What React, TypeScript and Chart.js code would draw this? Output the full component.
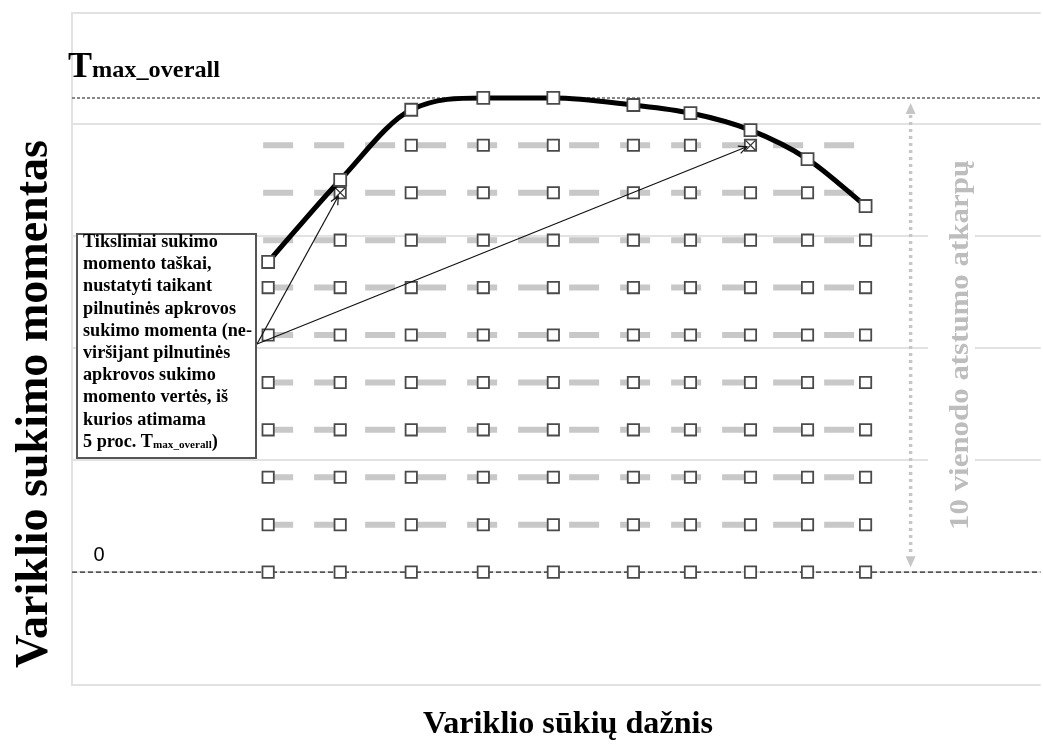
import React, { useEffect, useRef } from "react";
import { Chart, registerables } from "chart.js";

Chart.register(...registerables);

// ---- data ----
const engineSpeeds = [980, 1340, 1695, 2055, 2405, 2805, 3090, 3390, 3675, 3965];
const fullLoadTorque = [65.4, 82.7, 97.5, 100, 100, 98.5, 96.8, 93.2, 87.1, 77.2];
const torqueLevels = [0, 10, 20, 30, 40, 50, 60, 70, 80, 90];
const highestLevelIndex = [6, 7, 9, 9, 9, 9, 9, 8, 8, 7];
const targetSpeeds = [1340, 3390];
const targetTorques = [80, 90];
const gridLevels = [-23.8, 0, 23.6, 47.2, 70.8, 94.4, 117.9];
const levelLineSpeeds = [955, 3915];
const speedRange = [0, 4840];
const tmaxOverall = 100;
const spanArrowSpeed = 4190;

const boxLines = [
  "Tiksliniai sukimo",
  "momento taškai,",
  "nustatyti taikant",
  "pilnutinės apkrovos",
  "sukimo momenta (ne-",
  "viršijant pilnutinės",
  "apkrovos sukimo",
  "momento vertės, iš",
  "kurios atimama",
];
const boxLastLine = ["5 proc. T", "max_overall", ")"];
const yTitle = "Variklio sukimo momentas";
const xTitle = "Variklio sūkių dažnis";
const spanLabel = "10 vienodo atstumo atkarpų";
const tmaxLabel = ["T", "max_overall"];
const zeroLabel = "0";

const SERIF = '"Liberation Serif", "Times New Roman", serif';

function fitText(
  ctx: CanvasRenderingContext2D,
  text: string,
  x: number,
  y: number,
  width: number,
  align: CanvasTextAlign,
  rotate = 0
) {
  const w = ctx.measureText(text).width;
  const s = width / w;
  ctx.save();
  ctx.translate(x, y);
  if (rotate) ctx.rotate(rotate);
  ctx.scale(s, 1);
  ctx.textAlign = align;
  ctx.fillText(text, 0, 0);
  ctx.restore();
}

function arrowHead(ctx: CanvasRenderingContext2D, fx: number, fy: number, tx: number, ty: number, len: number) {
  const a = Math.atan2(ty - fy, tx - fx);
  ctx.beginPath();
  ctx.moveTo(tx - len * Math.cos(a - 0.45), ty - len * Math.sin(a - 0.45));
  ctx.lineTo(tx, ty);
  ctx.lineTo(tx - len * Math.cos(a + 0.45), ty - len * Math.sin(a + 0.45));
  ctx.stroke();
}

const annotationPlugin = {
  id: "annotations",
  afterDraw(chart: any) {
    const ctx: CanvasRenderingContext2D = chart.ctx;
    const xs = chart.scales.x;
    const ys = chart.scales.y;
    ctx.save();
    ctx.textBaseline = "alphabetic";

    // vertical double arrow (10 equal intervals)
    const ax = xs.getPixelForValue(spanArrowSpeed);
    const yTop = ys.getPixelForValue(tmaxOverall) + 5;
    const yBot = ys.getPixelForValue(0) - 5;
    ctx.strokeStyle = "#c6c6c6";
    ctx.fillStyle = "#c6c6c6";
    ctx.lineWidth = 3.5;
    ctx.setLineDash([3, 4]);
    ctx.beginPath();
    ctx.moveTo(ax, yTop + 12);
    ctx.lineTo(ax, yBot - 12);
    ctx.stroke();
    ctx.setLineDash([]);
    ctx.beginPath();
    ctx.moveTo(ax, yTop);
    ctx.lineTo(ax - 5, yTop + 11);
    ctx.lineTo(ax + 5, yTop + 11);
    ctx.closePath();
    ctx.fill();
    ctx.beginPath();
    ctx.moveTo(ax, yBot);
    ctx.lineTo(ax - 5, yBot - 11);
    ctx.lineTo(ax + 5, yBot - 11);
    ctx.closePath();
    ctx.fill();

    // vertical grey label with white background
    ctx.fillStyle = "#ffffff";
    ctx.fillRect(928, 160, 47, 372);
    ctx.fillStyle = "#bdbdbd";
    ctx.font = `bold 28px ${SERIF}`;
    fitText(ctx, spanLabel, 968, 345, 370, "center", -Math.PI / 2);

    // Tmax label
    ctx.fillStyle = "#000";
    ctx.font = `bold 36px ${SERIF}`;
    ctx.textAlign = "left";
    ctx.fillText(tmaxLabel[0], 68, 77);
    const tw = ctx.measureText(tmaxLabel[0]).width;
    ctx.font = `bold 24px ${SERIF}`;
    fitText(ctx, tmaxLabel[1], 68 + tw, 77, 128, "left");

    // zero label
    ctx.font = '20px "Liberation Sans", Arial, sans-serif';
    ctx.textAlign = "center";
    ctx.fillText(zeroLabel, 99, 561);

    // arrows from box to target points
    const ox = 257;
    const oy = 344;
    ctx.strokeStyle = "#111";
    ctx.lineWidth = 1.2;
    for (let i = 0; i < targetSpeeds.length; i++) {
      const px = xs.getPixelForValue(targetSpeeds[i]);
      const py = ys.getPixelForValue(targetTorques[i]);
      const a = Math.atan2(py - oy, px - ox);
      const tx = px - 4 * Math.cos(a);
      const ty = py - 4 * Math.sin(a);
      ctx.beginPath();
      ctx.moveTo(ox, oy);
      ctx.lineTo(tx, ty);
      ctx.stroke();
      arrowHead(ctx, ox, oy, tx, ty, 9);
    }

    // text box
    ctx.fillStyle = "#fff";
    ctx.fillRect(77, 234, 179, 224);
    ctx.strokeStyle = "#555";
    ctx.lineWidth = 2;
    ctx.strokeRect(77, 234, 179, 224);
    ctx.fillStyle = "#000";
    ctx.font = `bold 18px ${SERIF}`;
    const sc = 169 / ctx.measureText(boxLines[4]).width;
    const lh = 22.2;
    const bx = 83;
    let by = 247;
    ctx.textAlign = "left";
    for (const line of boxLines) {
      ctx.save();
      ctx.translate(bx, by);
      ctx.scale(sc, 1);
      ctx.fillText(line, 0, 0);
      ctx.restore();
      by += lh;
    }
    // last line with subscript
    ctx.save();
    ctx.translate(bx, by);
    ctx.scale(sc, 1);
    ctx.font = `bold 18px ${SERIF}`;
    ctx.fillText(boxLastLine[0], 0, 0);
    const w0 = ctx.measureText(boxLastLine[0]).width;
    ctx.font = `bold 11px ${SERIF}`;
    ctx.fillText(boxLastLine[1], w0, 1);
    const w1 = ctx.measureText(boxLastLine[1]).width;
    ctx.font = `bold 18px ${SERIF}`;
    ctx.fillText(boxLastLine[2], w0 + w1, 0);
    ctx.restore();

    // axis titles
    ctx.fillStyle = "#000";
    ctx.font = `bold 46px ${SERIF}`;
    fitText(ctx, yTitle, 47, 404, 528, "center", -Math.PI / 2);
    ctx.font = `bold 31px ${SERIF}`;
    fitText(ctx, xTitle, 568, 733, 290, "center");

    ctx.restore();
  },
};

export default function App() {
  const ref = useRef<HTMLCanvasElement | null>(null);

  useEffect(() => {
    if (!ref.current) return;

    const gridPoints: { x: number; y: number }[] = [];
    engineSpeeds.forEach((s, i) => {
      for (let j = 0; j <= highestLevelIndex[i]; j++) {
        gridPoints.push({ x: s, y: torqueLevels[j] });
      }
    });
    const targetPts = targetSpeeds.map((s, i) => ({ x: s, y: targetTorques[i] }));

    const levelDatasets = torqueLevels.slice(1).map((lvl) => ({
      type: "line" as const,
      data: [
        { x: levelLineSpeeds[0], y: lvl },
        { x: levelLineSpeeds[1], y: lvl },
      ],
      borderColor: "#c8c8c8",
      borderWidth: 6,
      borderDash: [30, 21],
      borderCapStyle: "butt" as const,
      pointRadius: 0,
      order: 5,
    }));

    const chart = new Chart(ref.current, {
      type: "line",
      data: {
        datasets: [
          {
            label: "Pilnutinės apkrovos sukimo momentas",
            data: engineSpeeds.map((s, i) => ({ x: s, y: fullLoadTorque[i] })),
            borderColor: "#000",
            borderWidth: 5,
            cubicInterpolationMode: "monotone",
            pointStyle: "rect",
            pointRadius: 8.5,
            pointBackgroundColor: "#fff",
            pointBorderColor: "#4a4a4a",
            pointBorderWidth: 1.8,
            order: 0,
          } as any,
          {
            data: targetPts,
            showLine: false,
            pointStyle: "crossRot",
            pointRadius: 7,
            pointBorderColor: "#333",
            pointBorderWidth: 1.2,
            order: 1,
          } as any,
          {
            data: targetPts,
            showLine: false,
            pointStyle: "rect",
            pointRadius: 8,
            pointBackgroundColor: "#fff",
            pointBorderColor: "#4a4a4a",
            pointBorderWidth: 1.8,
            order: 2,
          } as any,
          {
            data: gridPoints,
            showLine: false,
            pointStyle: "rect",
            pointRadius: 8,
            pointBackgroundColor: "#fff",
            pointBorderColor: "#4a4a4a",
            pointBorderWidth: 1.8,
            order: 3,
          } as any,
          ...levelDatasets,
          {
            data: [
              { x: speedRange[0], y: 0 },
              { x: speedRange[1], y: 0 },
            ],
            borderColor: "#222",
            borderWidth: 1.3,
            borderDash: [5, 3],
            pointRadius: 0,
            order: 6,
          } as any,
          {
            data: [
              { x: speedRange[0], y: tmaxOverall },
              { x: speedRange[1], y: tmaxOverall },
            ],
            borderColor: "#888",
            borderWidth: 2,
            borderDash: [3, 2],
            pointRadius: 0,
            order: 7,
          } as any,
        ],
      },
      options: {
        responsive: false,
        animation: false,
        layout: { padding: { left: 72, top: 13, right: 0, bottom: 62 } },
        plugins: { legend: { display: false }, tooltip: { enabled: false } },
        scales: {
          x: {
            type: "linear",
            min: speedRange[0],
            max: speedRange[1],
            ticks: { display: false },
            grid: { display: false, drawTicks: false },
            border: { display: false },
          },
          y: {
            type: "linear",
            min: gridLevels[0],
            max: gridLevels[gridLevels.length - 1],
            afterBuildTicks: (axis: any) => {
              axis.ticks = gridLevels.map((v) => ({ value: v }));
            },
            ticks: { display: false },
            grid: { color: "#e2e2e2", lineWidth: 2, drawTicks: false },
            border: { display: true, color: "#e2e2e2", width: 2 },
          },
        },
      },
      plugins: [annotationPlugin],
    });

    return () => chart.destroy();
  }, []);

  return (
    <div
      style={{
        position: "absolute",
        left: 0,
        top: 0,
        width: 1043,
        height: 747,
        overflow: "hidden",
        background: "#fff",
      }}
    >
      <canvas ref={ref} width={1051} height={747} style={{ width: 1051, height: 747, display: "block" }} />
    </div>
  );
}
